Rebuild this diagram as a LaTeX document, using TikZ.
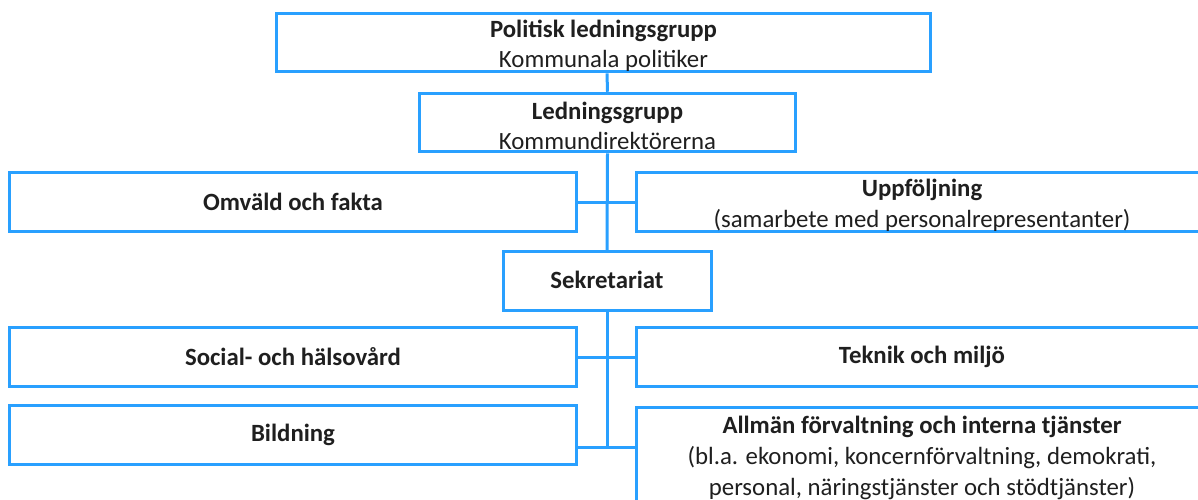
\documentclass[tikz,border=0pt]{standalone}
\usepackage{fontspec}
\setmainfont{Carlito}
\usepackage{xcolor}
\usepackage{tikz}
\usetikzlibrary{positioning,calc}

\definecolor{orgblue}{RGB}{41,160,255}
\newcommand{\liftline}{\rule{0pt}{12pt}}

\begin{document}
\begin{tikzpicture}[x=0.5pt, y=-0.5pt,
    unit/.style={rectangle, draw=orgblue, line width=1.5pt, fill=white, inner sep=0pt, align=center, text=black!88, font=\fontsize{12.4}{15.3}\selectfont, minimum height=29.25pt},
    leftunit/.style={unit, minimum width=283.75pt},
    rightunit/.style={unit, minimum width=285.5pt},
    link/.style={draw=orgblue, line width=1.5pt},
]

\clip (0,0) rectangle (1198,499);

% Top levels
\node[unit, minimum width=327pt] (pol) at (603.5,42.5) {\liftline\textbf{Politisk ledningsgrupp}\\Kommunala politiker};
\node[unit, minimum width=188pt] (led) at (607.5,122.5) {\liftline\textbf{Ledningsgrupp}\\Kommundirektörerna};

% Support units
\node[leftunit] (omv) at (293,202) {\textbf{Omväld och fakta}};
\node[rightunit] (upp) at (922,202) {\liftline\textbf{Uppföljning}\\(samarbete med personalrepresentanter)};
\node[unit, minimum width=104pt, text depth=1pt] (sek) at (607,281) {\textbf{Sekretariat}};

% Sectors
\node[leftunit] (soc) at (293,357) {\textbf{Social- och hälsovård}};
\node[rightunit] (tek) at (922,357) {\textbf{Teknik och miljö}};
\node[leftunit] (bil) at (293,435) {\textbf{Bildning}};
\node[rightunit, anchor=north, inner ysep=4.5pt] (all) at (922,406) {\textbf{Allmän förvaltning och interna tjänster}\\(bl.a. ekonomi, koncernförvaltning, demokrati,\\personal, näringstjänster och stödtjänster)};

\coordinate (end) at (607,447);

% Main line
\draw[link] (sek |- pol.south) -- (led.north);
\draw[link] (led.south) -- (sek.north);
\draw[link] (sek.south) -- (end);

% Branches
\draw[link] (omv) -- (upp);
\draw[link] (soc) -- (tek);
\draw[link] (bil.east |- end) -- (end) -- (all.west |- end);

\end{tikzpicture}
\end{document}
